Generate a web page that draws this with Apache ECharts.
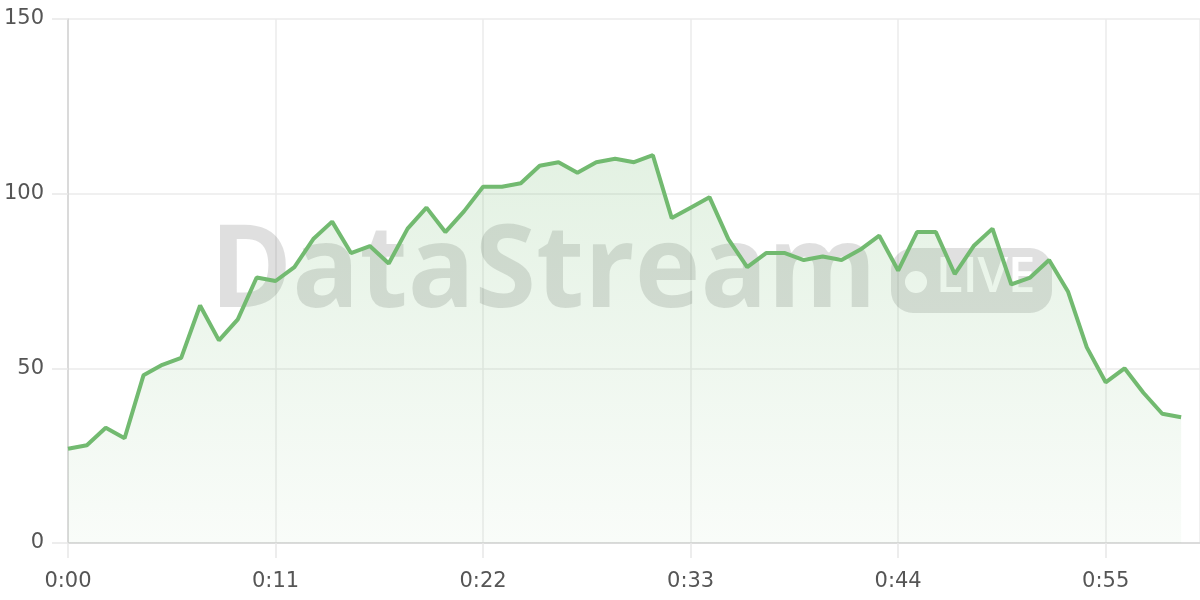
<!DOCTYPE html>
<html>
<head>
<meta charset="utf-8">
<script src="https://cdn.jsdelivr.net/npm/echarts@6/dist/echarts.min.js"></script>
<style>
html,body{margin:0;padding:0;background:#fff;}
#chart{width:1200px;height:600px;}
</style>
</head>
<body>
<div id="chart"></div>
<script>
// seconds elapsed
var seconds = [0,1,2,3,4,5,6,7,8,9,10,11,12,13,14,15,16,17,18,19,20,21,22,23,24,25,26,27,28,29,30,31,32,33,34,35,36,37,38,39,40,41,42,43,44,45,46,47,48,49,50,51,52,53,54,55,56,57,58,59];
var values = [27,28,33,30,48,51,53,68,58,64,76,75,79,87,92,83,85,80,90,96,89,95,102,102,103,108,109,106,109,110,109,111,93,96,99,87,79,83,83,81,82,81,84,88,78,89,89,77,85,90,74,76,81,72,56,46,50,43,37,36];
var yTicks = [0,50,100,150];
var xTickSeconds = [0,11,22,33,44,55];

var points = seconds.map(function(s, i){ return [s, values[i]]; });

function fmt(s){
  var m = Math.floor(s/60), r = s % 60;
  return m + ':' + (r < 10 ? '0' + r : r);
}

var chart = echarts.init(document.getElementById('chart'), null, {renderer:'canvas'});
var font = 'DejaVu Sans';
chart.setOption({
  animation:false,
  backgroundColor:'#ffffff',
  grid:{left:68, right:0, top:19, bottom:57, containLabel:false},
  xAxis:{
    type:'value', min:0, max:60, interval:11,
    axisLine:{show:true, lineStyle:{color:'#d3d3d3', width:1.5}},
    axisTick:{show:true, length:15, lineStyle:{color:'#e8e8e8', width:1.5}},
    splitLine:{show:true, lineStyle:{color:'#ebebeb', width:1.5}},
    axisLabel:{
      margin:28, color:'#555', fontFamily:font, fontSize:21, showMaxLabel:false,
      formatter:function(v){ return xTickSeconds.indexOf(v) >= 0 ? fmt(v) : ''; }
    }
  },
  yAxis:{
    type:'value', min:yTicks[0], max:yTicks[yTicks.length-1], interval:50,
    axisLine:{show:true, lineStyle:{color:'#d3d3d3', width:1.5}},
    axisTick:{show:true, length:16, lineStyle:{color:'#e8e8e8', width:1.5}},
    splitLine:{show:true, lineStyle:{color:'#ebebeb', width:1.5}},
    axisLabel:{margin:24, color:'#555', fontFamily:font, fontSize:21}
  },
  graphic:[
    {type:'text', z:1, x:210, y:218, scaleX:0.975,
      style:{text:'DataStream', fontFamily:'Open Sans', fontWeight:'bold', fontSize:114, fill:'rgba(0,0,0,0.125)'}},
    {type:'rect', z:1, shape:{x:891, y:248, width:161, height:65, r:22}, style:{fill:'rgba(0,0,0,0.12)'}},
    {type:'circle', z:1, shape:{cx:916, cy:282, r:11}, style:{fill:'#ffffff'}},
    {type:'text', z:1, x:936, y:254,
      style:{text:'LIVE', fontFamily:'Open Sans', fontWeight:600, fontSize:49, fill:'#ffffff'}}
  ],
  series:[{
    type:'line', data:points, symbol:'none', z:5,
    lineStyle:{color:'#72ba70', width:4},
    areaStyle:{color:new echarts.graphic.LinearGradient(0,0,0,1,[
      {offset:0, color:'rgba(112,185,110,0.28)'},
      {offset:1, color:'rgba(112,185,110,0.06)'}
    ])}
  }]
});
</script>
</body>
</html>
